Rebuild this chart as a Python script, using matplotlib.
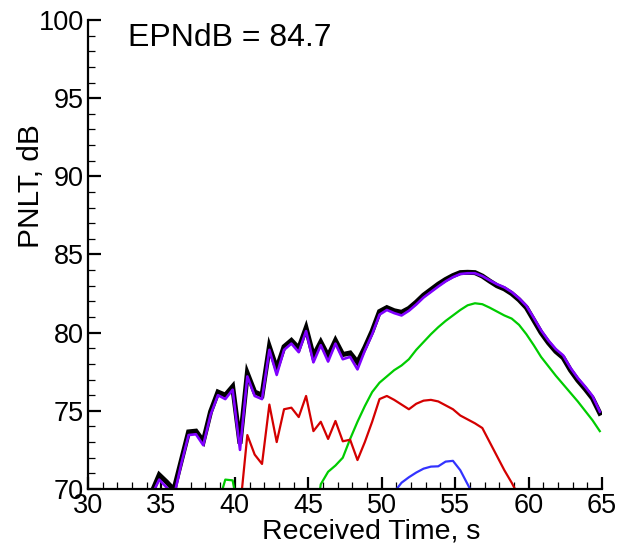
import numpy as np
import matplotlib
matplotlib.use("Agg")
import matplotlib.pyplot as plt
from matplotlib.ticker import MultipleLocator

plt.rcParams['font.family'] = ['Liberation Sans', 'DejaVu Sans']

# received time, half-second steps
t = np.arange(34.35, 64.9, 0.5)

# total PNLT (black)
pnlt_total = [69.8, 70.9, 70.45, 69.95, 71.8, 73.65, 73.7, 73.05, 74.95, 76.2,
              76.0, 76.55, 72.9, 77.4, 76.2, 76.0, 79.1, 77.7, 79.1, 79.5,
              79.0, 80.3, 78.5, 79.4, 78.5, 79.5, 78.6, 78.7, 78.1, 79.05,
              80.1, 81.35, 81.6, 81.4, 81.3, 81.55, 81.95, 82.4, 82.75, 83.1,
              83.4, 83.65, 83.84, 83.86, 83.84, 83.62, 83.3, 83.0, 82.8, 82.5,
              82.1, 81.6, 80.8, 80.0, 79.35, 78.8, 78.4, 77.6, 76.95, 76.4,
              75.8, 74.85]

# purple, nearly on top of the total
pnlt_purple = [69.6, 70.6, 70.1, 69.5, 71.6, 73.45, 73.5, 72.8, 74.75, 76.0,
               75.75, 76.35, 72.5, 77.2, 75.95, 75.75, 78.9, 77.3, 78.9, 79.3,
               78.75, 80.1, 78.1, 79.2, 78.15, 79.3, 78.3, 78.45, 77.65, 78.85,
               79.9, 81.15, 81.45, 81.25, 81.1, 81.4, 81.8, 82.25, 82.6, 82.95,
               83.28, 83.55, 83.75, 83.8, 83.8, 83.62, 83.35, 83.1, 82.9, 82.6,
               82.2, 81.72, 80.95, 80.15, 79.5, 78.95, 78.55, 77.75, 77.1, 76.55,
               75.95, 74.95]

# green component
pnlt_green = [60.0, 60.0, 60.0, 60.0, 60.0, 60.0, 60.0, 60.0, 60.0, 69.0,
              70.6, 70.55, 68.0, 60.0, 60.0, 60.0, 60.0, 60.0, 60.0, 60.0,
              60.0, 60.0, 67.0, 70.3, 71.1, 71.5, 72.0, 73.2, 74.3, 75.3,
              76.2, 76.8, 77.2, 77.6, 77.9, 78.3, 78.9, 79.4, 79.9, 80.35,
              80.75, 81.1, 81.45, 81.75, 81.88, 81.82, 81.6, 81.35, 81.1, 80.9,
              80.5, 79.9, 79.2, 78.45, 77.85, 77.25, 76.7, 76.15, 75.6, 75.0,
              74.4, 73.7]

# red component, starts at 40.35 s
t_red = np.arange(40.35, 59.4, 0.5)
pnlt_red = [68.7, 73.45, 72.2, 71.6, 75.4, 73.0, 75.1, 75.2, 74.6, 75.95,
            73.7, 74.3, 73.2, 74.35, 73.05, 73.15, 71.85, 73.0, 74.3, 75.75,
            75.95, 75.7, 75.4, 75.1, 75.45, 75.65, 75.7, 75.6, 75.35, 75.1,
            74.7, 74.45, 74.2, 73.9, 73.0, 72.1, 71.2, 70.4, 69.5]

# blue component, starts at 50.85 s
t_blue = np.arange(50.85, 56.4, 0.5)
pnlt_blue = [69.8, 70.4, 70.75, 71.05, 71.3, 71.43, 71.45, 71.75, 71.8, 71.2,
             70.3, 69.4]

fig = plt.figure(figsize=(6.17, 5.45), dpi=100)
ax = fig.add_axes([0.1426, 0.1028, 0.8331, 0.8605])

ax.plot(t, pnlt_total, color='black', lw=3.6, solid_joinstyle='miter')
ax.plot(t, pnlt_purple, color='#8000ff', lw=1.9)
ax.plot(t, pnlt_green, color='#00cc00', lw=1.6)
ax.plot(t_red, pnlt_red, color='#d40000', lw=1.6)
ax.plot(t_blue, pnlt_blue, color='#3333ff', lw=1.6)

ax.set_xlim(30, 65)
ax.set_ylim(70, 100)
ax.xaxis.set_major_locator(MultipleLocator(5))
ax.xaxis.set_minor_locator(MultipleLocator(1))
ax.yaxis.set_major_locator(MultipleLocator(5))
ax.yaxis.set_minor_locator(MultipleLocator(1))

for s in ['top', 'right']:
    ax.spines[s].set_visible(False)
for s in ['left', 'bottom']:
    ax.spines[s].set_linewidth(1.6)

ax.tick_params(which='major', direction='in', length=9, width=1.6, labelsize=19.5, pad=3)
ax.tick_params(which='minor', direction='in', length=5, width=0.9)

ax.set_xlabel('Received Time, s', fontsize=20.5)
ax.set_ylabel('PNLT, dB', fontsize=21.5)
# labels sit off-centre in the original
ax.xaxis.set_label_coords(0.55, -0.062)
ax.yaxis.set_label_coords(-0.083, 0.646)

ax.text(0.078, 0.9616, 'EPNdB = 84.7', transform=ax.transAxes, fontsize=23,
        va='center', ha='left')

fig.savefig('out.png', dpi=100)
